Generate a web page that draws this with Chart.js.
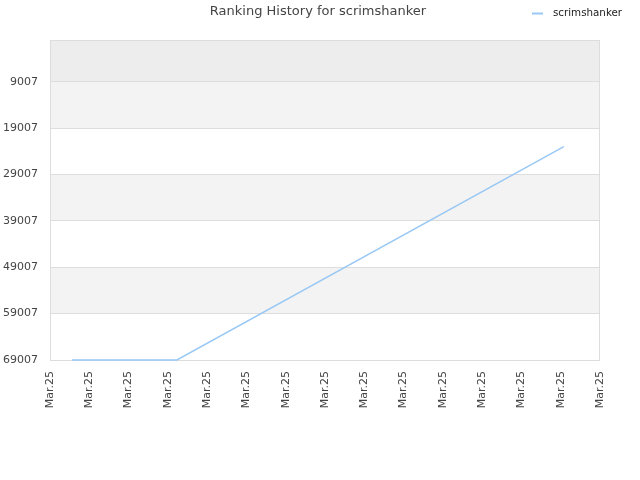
<!DOCTYPE html>
<html>
<head>
<meta charset="utf-8">
<script src="https://cdn.jsdelivr.net/npm/chart.js@4"></script>
<style>
html,body{margin:0;padding:0;background:#fff;}
#wrap{width:640px;height:480px;position:relative;}
</style>
</head>
<body>
<div id="wrap"><canvas id="c" width="640" height="480"></canvas></div>
<script>
const titleText = "Ranking History for scrimshanker";
const seriesName = "scrimshanker";
const xPositions = [0.56, 3.23, 13.08];
const rankValues = [69007, 69007, 23007];
const xTickLabels = ["Mar.25","Mar.25","Mar.25","Mar.25","Mar.25","Mar.25","Mar.25","Mar.25","Mar.25","Mar.25","Mar.25","Mar.25","Mar.25","Mar.25","Mar.25"];
const yTickValues = [9007, 19007, 29007, 39007, 49007, 59007, 69007];
const yMin = 0, yMax = 69007;

const lineColor = "#99c8f5";
const fontFam = "'DejaVu Sans', sans-serif";

const bandsPlugin = {
  id: 'bands',
  beforeDraw(chart) {
    const {ctx, chartArea: a, scales: {y}} = chart;
    ctx.save();
    const edges = [yMin].concat(yTickValues);
    for (let i = 0; i < edges.length - 1; i++) {
      const y0 = y.getPixelForValue(edges[i]);
      const y1 = y.getPixelForValue(edges[i+1]);
      let col = null;
      if (i === 0) col = "#ededed";
      else if (i % 2 === 1) col = "#f3f3f3";
      if (col) { ctx.fillStyle = col; ctx.fillRect(a.left, y0, a.right - a.left, y1 - y0); }
    }
    ctx.restore();
  },
  beforeDatasetsDraw(chart) {
    const {ctx, chartArea: a} = chart;
    ctx.save();
    ctx.strokeStyle = "#dddddd";
    ctx.lineWidth = 1;
    ctx.strokeRect(a.left + 0.5, a.top + 0.5, a.right - a.left - 1, a.bottom - a.top);
    ctx.restore();
  },
  afterDraw(chart) {
    const {ctx} = chart;
    ctx.save();
    // title
    ctx.fillStyle = "#444444";
    ctx.font = "13px " + fontFam;
    ctx.textAlign = "center";
    ctx.textBaseline = "middle";
    ctx.fillText(titleText, 318, 12);
    // legend
    const ds = chart.data.datasets[0];
    ctx.strokeStyle = ds.borderColor;
    ctx.lineWidth = 2;
    ctx.beginPath(); ctx.moveTo(532, 13.5); ctx.lineTo(543, 13.5); ctx.stroke();
    ctx.fillStyle = "#222222";
    ctx.font = "10.3px " + fontFam;
    ctx.textAlign = "left";
    ctx.fillText(ds.label, 553, 13);
    ctx.restore();
  }
};

new Chart(document.getElementById('c'), {
  type: 'line',
  data: {
    datasets: [{
      label: seriesName,
      data: xPositions.map((x, i) => ({x: x, y: rankValues[i]})),
      borderColor: lineColor,
      backgroundColor: lineColor,
      borderWidth: 1.5,
      pointRadius: 0,
      tension: 0,
      fill: false,
      clip: false
    }]
  },
  options: {
    responsive: false,
    animation: false,
    devicePixelRatio: 1,
    layout: {padding: {top: 40, right: 40, left: 0, bottom: 0}},
    plugins: {legend: {display: false}, title: {display: false}, tooltip: {enabled: false}},
    scales: {
      x: {
        type: 'linear',
        min: 0, max: xTickLabels.length - 1,
        afterBuildTicks(s) { s.ticks = xTickLabels.map((_, i) => ({value: i})); },
        afterFit(s) { s.height = 120; },
        ticks: {
          callback: (v, i) => xTickLabels[i],
          minRotation: 90, maxRotation: 90,
          autoSkip: false,
          color: "#444444",
          font: {family: fontFam, size: 11},
          padding: 11
        },
        grid: {display: false, drawTicks: false},
        border: {display: false}
      },
      y: {
        type: 'linear',
        reverse: true,
        min: yMin, max: yMax,
        afterBuildTicks(s) { s.ticks = yTickValues.map(v => ({value: v})); },
        afterFit(s) { s.width = 50; },
        ticks: {
          color: "#444444",
          font: {family: fontFam, size: 11},
          padding: 12,
          callback: v => String(v)
        },
        grid: {color: "#dddddd", drawTicks: false, lineWidth: 1},
        border: {display: false}
      }
    }
  },
  plugins: [bandsPlugin]
});
</script>
</body>
</html>
